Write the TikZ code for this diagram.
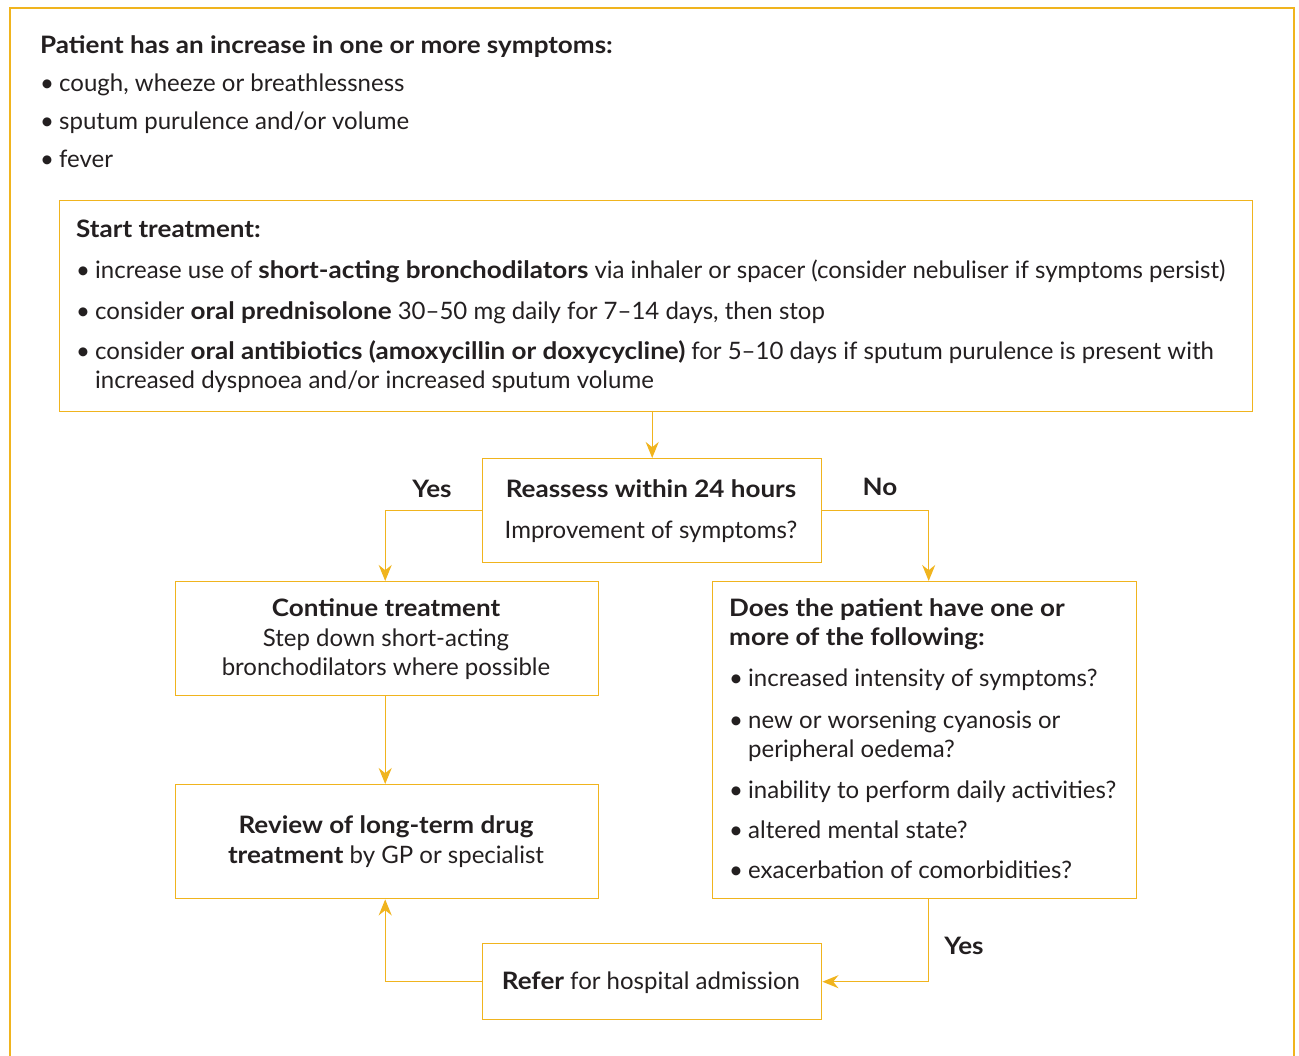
\documentclass[tikz,border=0pt]{standalone}
\usepackage{fontspec}
\setmainfont{Lato}[BoldFeatures={FakeStretch=1.085}]
\usetikzlibrary{arrows.meta}
\definecolor{cl}{RGB}{240,180,30}
\definecolor{tx}{RGB}{35,31,32}
\begin{document}
\begin{tikzpicture}[x=1pt,y=-1pt,
  box/.style={draw=cl, line width=1.4pt, inner sep=0pt, anchor=north west},
  con/.style={draw=cl, line width=1.4pt, -{Stealth[length=16pt,width=13pt]}},
  txt/.style={anchor=base west, inner sep=0pt, text=tx, font=\fontsize{24}{29}\selectfont},
  ctxt/.style={txt, anchor=base},
]
\useasboundingbox (0,0) rectangle (1299,1056);
\draw[cl, line width=2pt] (10,1060) -- (10,8) -- (1294,8) -- (1294,1060);

% header
\node[txt] (h0) at (40,54) {\textbf{Patient has an increase in one or more symptoms:}};
\node[txt] (h1b) at (40,92) {•};
\node[txt] (h1) at (59,92) {cough, wheeze or breathlessness};
\node[txt] (h2b) at (40,130) {•};
\node[txt] (h2) at (59,130) {sputum purulence and/or volume};
\node[txt] (h3b) at (40,168) {•};
\node[txt] (h3) at (59,168) {fever};

% boxes
\node[box, minimum width=1193pt, minimum height=211pt] (start) at (59,200) {};
\node[box, minimum width=339pt, minimum height=104pt] (reassess) at (482,458) {};
\node[box, minimum width=423pt, minimum height=114pt] (cont) at (175,581) {};
\node[box, minimum width=423pt, minimum height=114pt] (review) at (175,784) {};
\node[box, minimum width=424pt, minimum height=317pt] (does) at (712,581) {};
\node[box, minimum width=339pt, minimum height=76pt] (refer) at (482,943) {};

% start treatment text
\node[txt] (s0) at (76,238) {\textbf{Start treatment:}};
\node[txt] (s1b) at (76,279) {•};
\node[txt] (s1) at (95,279) {increase use of \textbf{short-acting bronchodilators} via inhaler or spacer (consider nebuliser if symptoms persist)};
\node[txt] (s2b) at (76,320) {•};
\node[txt] (s2) at (95,320) {consider \textbf{oral prednisolone} 30--50 mg daily for 7--14 days, then stop};
\node[txt] (s3b) at (76,360) {•};
\node[txt] (s3) at (95,360) {consider \textbf{oral antibiotics (amoxycillin or doxycycline)} for 5--10 days if sputum purulence is present with};
\node[txt] (s4) at (95,389) {increased dyspnoea and/or increased sputum volume};

% reassess
\node[ctxt] (r0) at (651,497) {\textbf{Reassess within 24 hours}};
\node[ctxt] (r1) at (651,538) {Improvement of symptoms?};

% continue
\node[ctxt] (c0) at (386,616) {\textbf{Continue treatment}};
\node[ctxt] (c1) at (386,646) {Step down short-acting};
\node[ctxt] (c2) at (386,675) {bronchodilators where possible};

% review
\node[ctxt] (v0) at (386,833) {\textbf{Review of long-term drug}};
\node[ctxt] (v1) at (386,863) {\textbf{treatment} by GP or specialist};

% does
\node[txt] (d0) at (729,616) {\textbf{Does the patient have one or}};
\node[txt] (d1) at (729,645) {\textbf{more of the following:}};
\node[txt] (d2b) at (729,686) {•};
\node[txt] (d2) at (748,686) {increased intensity of symptoms?};
\node[txt] (d3b) at (729,728) {•};
\node[txt] (d3) at (748,728) {new or worsening cyanosis or};
\node[txt] (d4) at (748,757) {peripheral oedema?};
\node[txt] (d5b) at (729,798) {•};
\node[txt] (d5) at (748,798) {inability to perform daily activities?};
\node[txt] (d6b) at (729,838) {•};
\node[txt] (d6) at (748,838) {altered mental state?};
\node[txt] (d7b) at (729,878) {•};
\node[txt] (d7) at (748,878) {exacerbation of comorbidities?};

% refer
\node[ctxt] (f0) at (651,989) {\textbf{Refer} for hospital admission};

% labels
\node[ctxt] (yes1) at (432,497) {\textbf{Yes}};
\node[ctxt] (no1) at (880,495) {\textbf{No}};
\node[ctxt] (yes2) at (964,954) {\textbf{Yes}};

% connectors
\draw[con] (reassess.north |- start.south) -- (reassess.north);
\draw[con] (reassess.west) -| ([xshift=-2pt]cont.north);
\draw[con] (reassess.east) -| ([xshift=4pt]does.north);
\draw[con] ([xshift=-2pt]cont.south) -- ([xshift=-2pt]review.north);
\draw[con] ([xshift=4pt]does.south) |- (refer.east);
\draw[con] (refer.west) -| ([xshift=-2pt]review.south);
\end{tikzpicture}
\end{document}
